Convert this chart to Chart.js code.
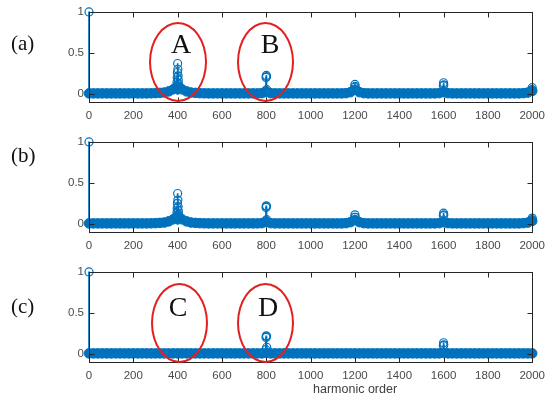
<!DOCTYPE html>
<html>
<head>
<meta charset="utf-8">
<script src="https://cdn.jsdelivr.net/npm/chart.js@4/dist/chart.umd.min.js"></script>
<style>
  body { margin: 0; background: #fff; }
  #wrap { position: relative; width: 552px; height: 398px; overflow: hidden; }
  .panel { position: absolute; left: 0; width: 552px; height: 130px; }
  .tag { position: absolute; font-family: "Liberation Serif", "Times New Roman", serif; font-size: 21px; color: #111; line-height: 1; }
  .letter { position: absolute; font-family: "Liberation Serif", "Times New Roman", serif; font-size: 28px; color: #111; line-height: 1; transform: translate(-50%, -50%); }
  .ring { position: absolute; border: 2.6px solid #e3201f; border-radius: 50%; box-sizing: border-box; }
  #xlabel { position: absolute; left: 313px; top: 382px; font-family: "Liberation Sans", Arial, sans-serif; font-size: 12.5px; color: #404040; }
</style>
</head>
<body>
<div id="wrap">
  <canvas id="chartA" class="panel" style="top:0px" width="552" height="130"></canvas>
  <canvas id="chartB" class="panel" style="top:130px" width="552" height="130"></canvas>
  <canvas id="chartC" class="panel" style="top:260px" width="552" height="130"></canvas>

  <div class="tag" style="left:11px; top:33px">(a)</div>
  <div class="tag" style="left:11px; top:145px">(b)</div>
  <div class="tag" style="left:11px; top:296px">(c)</div>

  <div class="ring" style="left:149px; top:22px; width:58px; height:80px"></div>
  <div class="ring" style="left:237px; top:22px; width:57px; height:80px"></div>
  <div class="ring" style="left:151px; top:283px; width:57px; height:80px"></div>
  <div class="ring" style="left:237px; top:283px; width:57px; height:80px"></div>
  <div class="letter" style="left:181px; top:44px">A</div>
  <div class="letter" style="left:270px; top:44px">B</div>
  <div class="letter" style="left:178px; top:307px">C</div>
  <div class="letter" style="left:268px; top:307px">D</div>

  <div id="xlabel">harmonic order</div>
</div>
<script>
const xTicks = [0, 200, 400, 600, 800, 1000, 1200, 1400, 1600, 1800, 2000];
const yTicks = [0, 0.5, 1];

// every 20th harmonic, for the dense low band
const floorOrders = [
  0, 20, 40, 60, 80, 100, 120, 140, 160, 180,
  200, 220, 240, 260, 280, 300, 320, 340, 360, 380,
  400, 420, 440, 460, 480, 500, 520, 540, 560, 580,
  600, 620, 640, 660, 680, 700, 720, 740, 760, 780,
  800, 820, 840, 860, 880, 900, 920, 940, 960, 980,
  1000, 1020, 1040, 1060, 1080, 1100, 1120, 1140, 1160, 1180,
  1200, 1220, 1240, 1260, 1280, 1300, 1320, 1340, 1360, 1380,
  1400, 1420, 1440, 1460, 1480, 1500, 1520, 1540, 1560, 1580,
  1600, 1620, 1640, 1660, 1680, 1700, 1720, 1740, 1760, 1780,
  1800, 1820, 1840, 1860, 1880, 1900, 1920, 1940, 1960, 1980,
  2000
];

const floorA = [
  .005, .005, .005, .005, .005, .005, .005, .005, .005, .005,
  .005, .005, .005, .005, .006, .008, .011, .016, .03, .055,
  .08, .055, .03, .016, .011, .008, .006, .005, .005, .005,
  .005, .005, .005, .005, .005, .005, .005, .005, .005, .008,
  .02, .008, .005, .005, .005, .005, .005, .005, .005, .005,
  .005, .005, .005, .005, .005, .005, .005, .005, .008, .02,
  .05, .02, .008, .005, .005, .005, .005, .005, .005, .005,
  .005, .005, .005, .005, .005, .005, .005, .005, .005, .008,
  .02, .008, .005, .005, .005, .005, .005, .005, .005, .005,
  .005, .005, .005, .005, .005, .005, .005, .005, .008, .015,
  .035
];

const floorB = [
  .005, .005, .005, .005, .005, .005, .005, .005, .005, .005,
  .005, .005, .005, .005, .006, .008, .011, .016, .03, .055,
  .08, .055, .03, .016, .011, .008, .006, .005, .005, .005,
  .005, .005, .005, .005, .005, .005, .005, .005, .005, .008,
  .02, .008, .005, .005, .005, .005, .005, .005, .005, .005,
  .005, .005, .005, .005, .005, .005, .005, .005, .008, .02,
  .045, .02, .008, .005, .005, .005, .005, .005, .005, .005,
  .005, .005, .005, .005, .005, .005, .005, .005, .005, .008,
  .02, .008, .005, .005, .005, .005, .005, .005, .005, .005,
  .005, .005, .005, .005, .005, .005, .005, .005, .008, .015,
  .035
];

const floorC = [
  .005, .005, .005, .005, .005, .005, .005, .005, .005, .005,
  .005, .005, .005, .005, .005, .005, .005, .005, .005, .005,
  .005, .005, .005, .005, .005, .005, .005, .005, .005, .005,
  .005, .005, .005, .005, .005, .005, .005, .005, .005, .005,
  .01, .005, .005, .005, .005, .005, .005, .005, .005, .005,
  .005, .005, .005, .005, .005, .005, .005, .005, .005, .005,
  .005, .005, .005, .005, .005, .005, .005, .005, .005, .005,
  .005, .005, .005, .005, .005, .005, .005, .005, .005, .005,
  .01, .005, .005, .005, .005, .005, .005, .005, .005, .005,
  .005, .005, .005, .005, .005, .005, .005, .005, .005, .005,
  .005
];

// the tall harmonics (single orders)
const peakOrdersA = [0, 396, 397, 398, 399, 400, 401, 402, 403, 404, 405, 798, 799, 800, 801, 802, 1199, 1200, 1201, 1599, 1600, 1601, 1999, 2000];
const peakValuesA = [1, 0.1, 0.14, 0.2, 0.26, 0.37, 0.3, 0.22, 0.17, 0.12, 0.09, 0.04, 0.2, 0.225, 0.21, 0.05, 0.08, 0.115, 0.09, 0.1, 0.135, 0.11, 0.05, 0.075];

const peakOrdersB = [0, 396, 397, 398, 399, 400, 401, 402, 403, 404, 405, 798, 799, 800, 801, 802, 1199, 1200, 1201, 1599, 1600, 1601, 1999, 2000];
const peakValuesB = [1, 0.1, 0.14, 0.19, 0.25, 0.37, 0.29, 0.21, 0.16, 0.12, 0.09, 0.04, 0.2, 0.22, 0.21, 0.05, 0.08, 0.11, 0.08, 0.1, 0.13, 0.11, 0.05, 0.07];

const peakOrdersC = [0, 798, 799, 800, 801, 802, 1599, 1600, 1601];
const peakValuesC = [1, 0.05, 0.2, 0.22, 0.21, 0.08, 0.1, 0.135, 0.11];

const blue = 'rgb(0, 114, 189)';
const axisColor = '#262626';

// MATLAB-like box with inward ticks
const boxPlugin = {
  id: 'box',
  afterDraw(chart) {
    const ctx = chart.ctx;
    const a = chart.chartArea;
    const xs = chart.scales.x;
    const ys = chart.scales.y;
    const L = Math.round(a.left) + 0.5, R = Math.round(a.right) + 0.5;
    const T = Math.round(a.top) + 0.5, B = Math.round(a.bottom) + 0.5;
    ctx.save();
    ctx.strokeStyle = axisColor;
    ctx.lineWidth = 1;
    ctx.strokeRect(L, T, R - L, B - T);
    ctx.beginPath();
    xTicks.forEach(v => {
      const px = Math.round(xs.getPixelForValue(v)) + 0.5;
      ctx.moveTo(px, B); ctx.lineTo(px, B - 5);
      ctx.moveTo(px, T); ctx.lineTo(px, T + 5);
    });
    yTicks.forEach(v => {
      const py = Math.round(ys.getPixelForValue(v)) + 0.5;
      ctx.moveTo(L, py); ctx.lineTo(L + 5, py);
      ctx.moveTo(R, py); ctx.lineTo(R - 5, py);
    });
    ctx.stroke();
    ctx.restore();
  }
};

const tickFont = { family: '"Liberation Sans", Arial, sans-serif', size: 11.5 };

const makePanel = (id, floorValues, peakOrders, peakValues) => {
  const ctx = document.getElementById(id).getContext('2d');
  const floorPts = floorOrders.map((x, i) => ({ x: x, y: floorValues[i] }));
  const peakPts = peakOrders.map((x, i) => ({ x: x, y: peakValues[i] }));
  return new Chart(ctx, {
    type: 'scatter',
    data: {
      datasets: [
        {
          type: 'bar',
          data: peakPts,
          backgroundColor: blue,
          borderWidth: 0,
          barThickness: 1,
          grouped: false,
          clip: false,
          order: 3
        },
        {
          data: floorPts,
          pointRadius: 4.8,
          pointBorderWidth: 1,
          borderColor: blue,
          backgroundColor: blue,
          clip: false,
          order: 2
        },
        {
          data: peakPts,
          pointRadius: 4,
          pointBorderWidth: 1.2,
          borderColor: blue,
          backgroundColor: 'rgba(0,0,0,0)',
          clip: false,
          order: 1
        }
      ]
    },
    options: {
      responsive: false,
      animation: false,
      devicePixelRatio: 1,
      layout: { padding: { top: 9.5, right: 17.5, left: 0, bottom: 0 } },
      plugins: { legend: { display: false }, tooltip: { enabled: false } },
      scales: {
        x: {
          type: 'linear',
          min: 0,
          max: 2000,
          offset: false,
          grid: { display: false, drawTicks: false },
          border: { display: false },
          afterBuildTicks: s => { s.ticks = xTicks.map(v => ({ value: v })); },
          afterFit: s => { s.height = 28; },
          ticks: {
            font: tickFont,
            color: '#4a4a4a',
            padding: 7,
            maxRotation: 0,
            autoSkip: false,
            callback: v => String(v)
          }
        },
        y: {
          type: 'linear',
          min: -0.1,
          max: 1,
          grid: { display: false, drawTicks: false },
          border: { display: false },
          afterBuildTicks: s => { s.ticks = yTicks.map(v => ({ value: v })); },
          afterFit: s => { s.width = 89; },
          ticks: {
            font: tickFont,
            color: '#4a4a4a',
            padding: 5,
            callback: v => String(v)
          }
        }
      }
    },
    plugins: [boxPlugin]
  });
};

makePanel('chartA', floorA, peakOrdersA, peakValuesA);
makePanel('chartB', floorB, peakOrdersB, peakValuesB);
makePanel('chartC', floorC, peakOrdersC, peakValuesC);
</script>
</body>
</html>
